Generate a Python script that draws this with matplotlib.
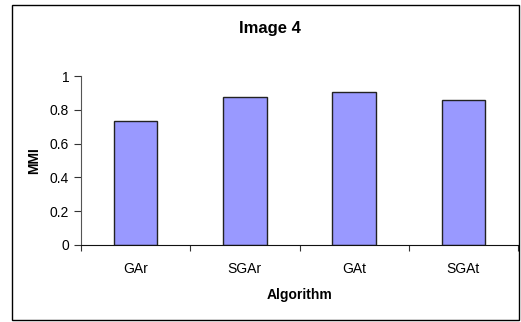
import matplotlib.pyplot as plt
from matplotlib.patches import Rectangle

plt.rcParams['font.family'] = ['Liberation Sans', 'DejaVu Sans']

algorithms = ['GAr', 'SGAr', 'GAt', 'SGAt']
mmi = [0.735, 0.877, 0.903, 0.858]

fig = plt.figure(figsize=(5.21, 3.22), dpi=100)
ax = fig.add_axes([81/521, 1 - 245/322, 437/521, 169/322])

pos = range(len(algorithms))
ax.bar(pos, mmi, width=0.4, color='#9999ff', edgecolor='#222222', linewidth=1)

ax.set_xlim(-0.5, len(algorithms) - 0.5)
ax.set_ylim(0, 1)
ax.set_yticks([0, 0.2, 0.4, 0.6, 0.8, 1])
ax.set_yticklabels(['0', '0.2', '0.4', '0.6', '0.8', '1'])

# tick marks between categories, labels in the middle
ax.set_xticks([i - 0.5 for i in range(len(algorithms) + 1)])
ax.set_xticklabels([])
ax.set_xticks(list(pos), minor=True)
ax.set_xticklabels(algorithms, minor=True)
ax.tick_params(axis='x', which='minor', length=0, pad=12, labelsize=10)
ax.tick_params(axis='x', which='major', length=4, direction='out', color='#333333')
ax.tick_params(axis='y', length=5, direction='out', labelsize=10, color='#333333')

for s in ['top', 'right']:
    ax.spines[s].set_visible(False)
ax.spines['left'].set_color('#555555')
ax.spines['bottom'].set_color('#111111')

ax.set_xlabel('Algorithm', fontsize=10, fontweight='bold', labelpad=9)
ax.set_ylabel('MMI', fontsize=10, fontweight='bold', labelpad=6)
fig.text(270/521, 1 - 29/322, 'Image 4', ha='center', va='center',
         fontsize=12, fontweight='bold')

fig.patches.append(Rectangle((12/521, 2/322), 507/521, 315/322,
                             transform=fig.transFigure, fill=False,
                             edgecolor='black', linewidth=1))

fig.savefig('out.png', dpi=100)
